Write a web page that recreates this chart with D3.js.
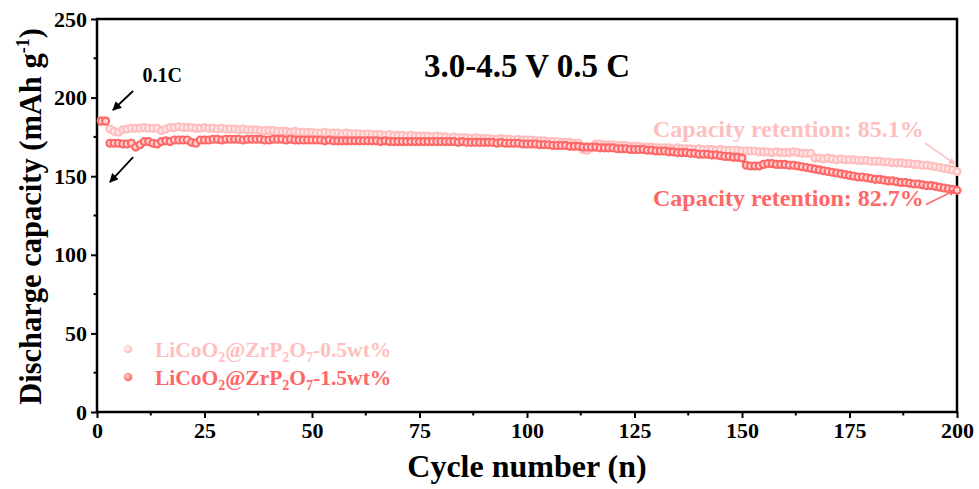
<!DOCTYPE html>
<html><head><meta charset="utf-8">
<script src="https://cdn.jsdelivr.net/npm/d3@7"></script>
<style>body{margin:0;background:#fff}svg{display:block}text{font-family:"Liberation Serif","Times New Roman",serif;font-weight:bold}</style>
</head><body>
<script>
const xTicks = [0,25,50,75,100,125,150,175,200];
const yTicks = [0,50,100,150,200,250];
const seriesNames = ["LiCoO2@ZrP2O7-0.5wt%","LiCoO2@ZrP2O7-1.5wt%"];
const light = [185.5,185.5,180,178.5,178,179.5,180,180.5,180.5,180.5,181,180.5,180.5,180.5,179,180,181,181,181.5,181,181,181,180.5,180.5,181,
180.5,180.5,180,180.5,180,180,180,179.5,180,179.5,179.5,179.5,179,179,179,
179,178.5,178.5,178.5,178,178.5,178,178,178,178,177.5,177.5,178,177.5,177.5,177.5,177,177.5,177,177,
177,176.5,177,176.5,176.5,176.5,176,176.5,176,176,176,175.5,176,175.5,175.5,175.5,175.5,175,175.5,175,
175,174.5,175,174.5,174.5,174.5,174,174.5,174,174,174,173.5,173.5,174,173.5,173.5,173,173.5,173,173,
173,172.5,172.5,172.5,172,172,172,171.5,171.5,171.5,171,171,167,166.5,168,
170.5,170.5,170,170,170,169.5,169.5,169.5,169,169,
169,168.5,168.5,168.5,168,168,168,168,167.5,168,167.5,167.5,167.5,167,167.5,167,167,167,166.5,167,166.5,166.5,166.5,166.5,166,
166,166,166,165.5,165.5,165.5,165,165.5,165,165,165,165.5,165,164.5,164.5,164.5,
161.5,161.5,161,161.5,161,160.5,161,160.5,160.5,160.5,160,160,160,159.5,159.5,159.5,159,159,158.5,158.5,158.5,158,158,157.5,157.5,157,157,156.5,156,155.5,155,154.5,154,153];
const dark = [185,185,171,171,171,170.5,170.5,171,168.5,170,172,172,171,170.5,172,172.5,172,173,173,173,173,171.5,171,173,173,
173,173.5,173.5,173,173.5,173.5,173.5,173.5,173,173.5,173.5,173.5,173.5,173,173,173.5,173.5,173.5,173,173.5,173,173,173,173,173,
173,173,172.5,173,172.5,172.5,172.5,172.5,172.5,172.5,172.5,172.5,172.5,172.5,172.5,172,172.5,172,172,172,
172,172,172,172,172,172,172,172,172,172,172,172,172,171.5,172,171.5,171.5,171.5,171.5,171.5,171.5,171.5,171,171.5,171,171,171,171,170.5,170.5,
170.5,170.5,170,170,170,169.5,169.5,169.5,169.5,169,169,169,168.5,168.5,168.5,
168.5,168,168,168,168,167.5,167.5,167.5,167,167,167,167,166.5,166.5,166,166,166,165.5,165.5,165,165,165,164.5,164.5,164,164,164,163.5,163.5,163,162.5,162.5,162,162,161.5,
157,156.5,156.5,156.5,157.5,
158,158,157.5,157.5,157.5,157,157,156.5,156,155.5,155,154.5,154,153.5,153,152.5,152,151.5,151,150.5,
150,149.5,149.5,149,148.5,148,148,147.5,147,147,146.5,146,146,145.5,145,145,144.5,144,144,143.5,143,142.5,142,141.5,141];
const retention = ["Capacity retention: 85.1%","Capacity retention: 82.7%"];
const colors = {light:"#FFBEBE", lightFill:"#FFE8E8", dark:"#FF6666", darkFill:"#FFD4D4"};

const W = 979, H = 489;
const m = {l:97, r:22, t:19, b:77};
const svg = d3.select("body").append("svg").attr("width",W).attr("height",H);
const x = d3.scaleLinear().domain([0,200]).range([m.l, W-m.r]);
const y = d3.scaleLinear().domain([0,250]).range([H-m.b, m.t]);

const defs = svg.append("defs");
[["gL",colors.light,"#fff3f3"],["gD",colors.dark,"#ffd0d0"]].forEach(([id,c,ci])=>{
  const g = defs.append("radialGradient").attr("id",id).attr("cx","40%").attr("cy","40%").attr("r","60%");
  g.append("stop").attr("offset","0%").attr("stop-color",ci);
  g.append("stop").attr("offset","100%").attr("stop-color",c);
});
[["arK","#000"],["arL",colors.light],["arD",colors.dark]].forEach(([id,c])=>{
  defs.append("marker").attr("id",id).attr("viewBox","0 0 10 10").attr("refX",9).attr("refY",5)
    .attr("markerWidth",id==="arK"?5:4.5).attr("markerHeight",id==="arK"?5:4.5).attr("orient","auto")
    .append("path").attr("d","M0,0L10,5L0,10z").attr("fill",c);
});

// axes
const xAxis = d3.axisBottom(x).tickValues(xTicks).tickSize(6).tickPadding(4);
const gx = svg.append("g").attr("transform",`translate(0,${H-m.b})`).call(xAxis);
const yAxis = d3.axisLeft(y).tickValues(yTicks).tickSize(6).tickPadding(4);
const gy = svg.append("g").attr("transform",`translate(${m.l},0)`).call(yAxis);
[gx,gy].forEach(g=>{
  g.attr("font-size",22).attr("font-family","Liberation Serif, serif");
  g.select(".domain").remove();
  g.selectAll(".tick line").attr("stroke","#000").attr("stroke-width",2);
  g.selectAll(".tick text").attr("font-weight","bold").attr("fill","#000");
});
// minor ticks
svg.append("g").selectAll("line").data(xTicks.slice(0,-1).map(v=>v+12.5)).join("line")
  .attr("x1",d=>x(d)).attr("x2",d=>x(d)).attr("y1",H-m.b).attr("y2",H-m.b+3.5).attr("stroke","#000").attr("stroke-width",2);
svg.append("g").selectAll("line").data(yTicks.slice(0,-1).map(v=>v+25)).join("line")
  .attr("y1",d=>y(d)).attr("y2",d=>y(d)).attr("x1",m.l).attr("x2",m.l-3.5).attr("stroke","#000").attr("stroke-width",2);

// frame
svg.append("rect").attr("x",m.l).attr("y",m.t).attr("width",W-m.r-m.l).attr("height",H-m.b-m.t)
  .attr("fill","none").attr("stroke","#000").attr("stroke-width",2.5);

// data
function drawSeries(vals, stroke, fill){
  svg.append("g").selectAll("circle").data(vals).join("circle")
    .attr("cx",(d,i)=>x(i+1)).attr("cy",d=>y(d)).attr("r",3.5)
    .attr("fill",fill).attr("stroke",stroke).attr("stroke-width",2.1);
}
drawSeries(light, colors.light, colors.lightFill);
drawSeries(dark, colors.dark, colors.darkFill);

// title
svg.append("text").attr("x",x(100)).attr("y",77).attr("text-anchor","middle").attr("font-size",33).text("3.0-4.5 V 0.5 C");

// 0.1C annotation
svg.append("text").attr("x",x(10.6)).attr("y",y(210)).attr("font-size",20).text("0.1C");
[[8.4,204.2,3.7,192.1],[8.4,162.2,3.0,146.3]].forEach(a=>{
  svg.append("line").attr("x1",x(a[0])).attr("y1",y(a[1])).attr("x2",x(a[2])).attr("y2",y(a[3]))
    .attr("stroke","#000").attr("stroke-width",1.8).attr("marker-end","url(#arK)");
});

// retention annotations
svg.append("text").attr("x",x(160.8)).attr("y",y(175)).attr("text-anchor","middle").attr("font-size",24)
  .attr("fill",colors.light).text(retention[0]);
svg.append("line").attr("x1",x(192.6)).attr("y1",y(171)).attr("x2",x(199.5)).attr("y2",y(157.8))
  .attr("stroke",colors.light).attr("stroke-width",1.5).attr("marker-end","url(#arL)");
svg.append("text").attr("x",x(160.8)).attr("y",y(131)).attr("text-anchor","middle").attr("font-size",24)
  .attr("fill",colors.dark).text(retention[1]);
svg.append("line").attr("x1",x(192.8)).attr("y1",y(132)).attr("x2",x(199.5)).attr("y2",y(141))
  .attr("stroke",colors.dark).attr("stroke-width",1.5).attr("marker-end","url(#arD)");

// legend
function legendText(g, name, fill, yy){
  const t = g.append("text").attr("x",155).attr("y",yy).attr("font-size",21.5).attr("fill",fill);
  const mm = name.match(/(LiCoO)(2)(@ZrP)(2)(O)(7)(.*)/);
  const seq = [[mm[1],0],[mm[2],1],[mm[3],0],[mm[4],1],[mm[5],0],[mm[6],1],[mm[7],0]];
  seq.forEach(([s,sub],i)=>{
    const prev = i>0 ? seq[i-1][1] : 0;
    const ts = t.append("tspan").text(s).attr("dy", sub && !prev ? 5 : (!sub && prev ? -5 : 0));
    if(sub) ts.attr("font-size",14);
  });
}
const lg = svg.append("g");
lg.append("circle").attr("cx",128).attr("cy",349).attr("r",4.3).attr("fill","url(#gL)");
lg.append("circle").attr("cx",128).attr("cy",377).attr("r",4.3).attr("fill","url(#gD)");
legendText(lg, seriesNames[0], colors.light, 357);
legendText(lg, seriesNames[1], colors.dark, 385);

// axis titles
svg.append("text").attr("x",x(100)).attr("y",477).attr("text-anchor","middle").attr("font-size",32).text("Cycle number (n)");
const yl = svg.append("text").attr("transform",`translate(41,${(m.t+H-m.b)/2+1}) rotate(-90)`).attr("text-anchor","middle").attr("font-size",30.5);
yl.append("tspan").text("Discharge capacity (mAh g");
yl.append("tspan").text("-1").attr("font-size",18).attr("dy",-12);
yl.append("tspan").text(")").attr("dy",12);
</script>
</body></html>
